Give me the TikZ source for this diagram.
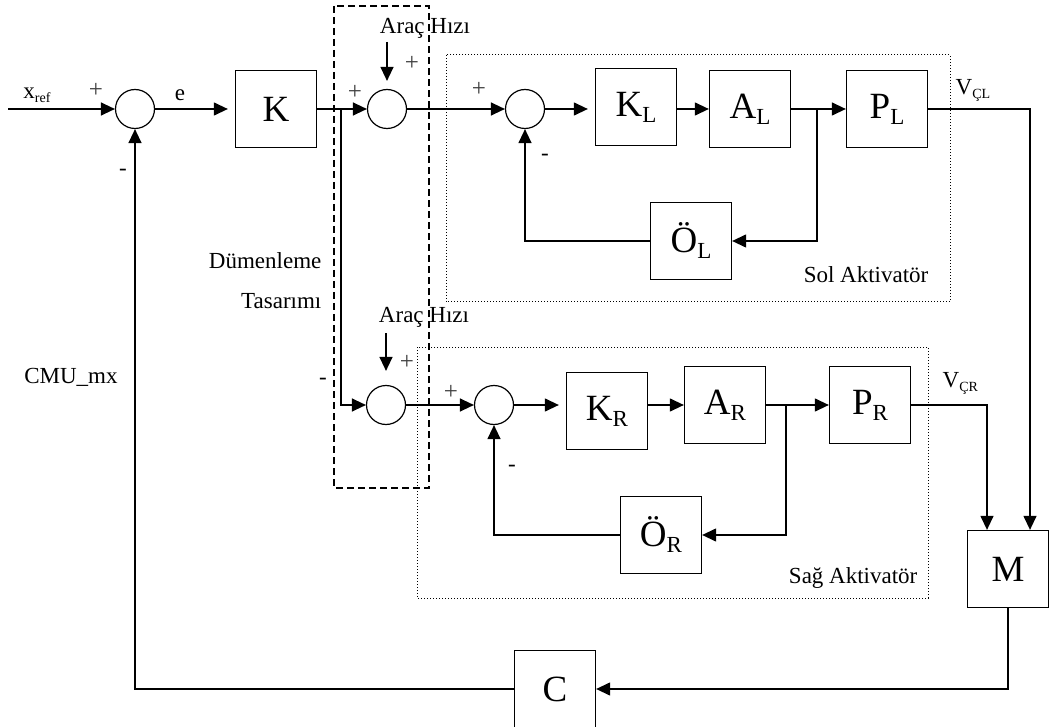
\documentclass[tikz,border=0pt]{standalone}
\usepackage{fontspec}
\setmainfont{Liberation Serif}
\usetikzlibrary{arrows.meta, positioning, calc}

\newcommand{\bsub}[2]{#1\raisebox{-6pt}{\fontsize{23}{23}\selectfont #2}}
\newcommand{\ksub}[2]{#1\raisebox{-4pt}{\fontsize{14}{14}\selectfont #2}}

\begin{document}
\begin{tikzpicture}[
  x=1pt, y=-1pt, line width=1.3pt,
  every node/.style={inner sep=0pt, font=\fontsize{23}{26}\selectfont},
  blok/.style={draw, minimum width=81pt, minimum height=77pt,
               font=\fontsize{37}{40}\selectfont},
  topla/.style={draw, circle, minimum size=39pt, line width=1.2pt},
  ok/.style={-{Triangle[length=14pt, width=13pt]}},
  arti/.style={font=\fontsize{25}{25}\selectfont, black!75},
  kesikli/.style={dash pattern=on 7pt off 4pt, line width=1.2pt},
  noktali/.style={dotted, line width=1pt}
]
  \useasboundingbox (0,0) rectangle (1052,727);

  % --- Frames ---
  \draw[kesikli] (334,6) rectangle (429,488);
  \draw[noktali] (446,55) rectangle (950,302);
  \draw[noktali] (417,347) rectangle (928,598);

  % --- Outer loop ---
  \node[topla] (s1) at (135,109) {};
  \node[blok] (K) at (276,109) {K};
  \node[topla] (s2) at (387,109) {};
  \node[topla] (s3) at (386,405) {};
  \coordinate (giris) at (8,109);
  \coordinate (dal) at (341,109);
  \coordinate (hiz1) at (387,42);
  \coordinate (hiz2) at (386,333);

  % --- Sol aktivator ---
  \node[topla] (sL) at (525,109) {};
  \node[blok] (KL) at (636,107) {\bsub{K}{L}};
  \node[blok] (AL) at (750,109) {\bsub{A}{L}};
  \node[blok] (PL) at (887,109) {\bsub{P}{L}};
  \node[blok] (OL) at (691,241) {\bsub{Ö}{L}};
  \coordinate (dalL) at (817,109);

  % --- Sag aktivator ---
  \node[topla] (sR) at (494,405) {};
  \node[blok] (KR) at (607,411) {\bsub{K}{R}};
  \node[blok] (AR) at (725,405) {\bsub{A}{R}};
  \node[blok] (PR) at (870,405) {\bsub{P}{R}};
  \node[blok] (OR) at (661,535) {\bsub{Ö}{R}};
  \coordinate (dalR) at (786,405);

  % --- Output ---
  \node[blok] (M) at (1008,569) {M};
  \node[blok] (C) at (555,689) {C};

  % --- Labels ---
  \node at (37,95) {\ksub{x}{ref}};
  \node at (180,95) {e};
  \node at (71,377) {CMU\_mx};
  \node at (425,28) {Araç Hızı};
  \node at (424,317) {Araç Hızı};
  \node[anchor=east] at (322,261) {Dümenleme};
  \node[anchor=east] at (322,301) {Tasarımı};
  \node[anchor=east] at (929,275) {Sol Aktivatör};
  \node[anchor=east] at (918,578) {Sağ Aktivatör};
  \node[anchor=west] at (955,90) {\ksub{V}{ÇL}};
  \node[anchor=west] at (942,383) {\ksub{V}{ÇR}};

  \node[arti] at (96,90) {+};
  \node at (123,172) {-};
  \node[arti] at (355,92) {+};
  \node[arti] at (412,63) {+};
  \node at (323,381) {-};
  \node[arti] at (407,362) {+};
  \node[arti] at (479,89) {+};
  \node at (545,157) {-};
  \node[arti] at (451,392) {+};
  \node at (512,468) {-};

  % --- Arrows ---
  \draw[ok] (giris) -- (s1);
  \draw[ok, shorten >=7pt] (s1) -- (K);
  \draw[ok] (K.east) -- (s2);
  \draw[ok] (dal) |- (s3);
  \draw[ok, shorten >=8pt] (hiz1) -- (s2);
  \draw[ok, shorten >=14pt] (hiz2) -- (s3);
  \draw[ok] (s2) -- (sL);
  \draw[ok] (s3) -- (sR);

  \draw[ok, shorten >=7pt] (sL) -- (KL.west |- sL);
  \draw[ok] (KL.east |- sL) -- (AL.west |- sL);
  \draw[ok] (AL) -- (PL);
  \draw[ok] (dalL) |- (OL);
  \draw[ok] (OL) -| (sL);

  \draw[ok, shorten >=7pt] (sR) -- (KR.west |- sR);
  \draw[ok] (KR.east |- sR) -- (AR.west);
  \draw[ok] (AR) -- (PR);
  \draw[ok] (dalR) |- (OR);
  \draw[ok] (OR) -| (sR);

  % outputs to M, then back through C
  \draw[ok] (PL.east) -| ($(M.north)+(22,0)$);
  \draw[ok] (PR.east) -| ($(M.north)+(-21,0)$);
  \draw[ok] (M.south) |- (C.east);
  \draw[ok] (C.west) -| (s1.south);

\end{tikzpicture}
\end{document}
